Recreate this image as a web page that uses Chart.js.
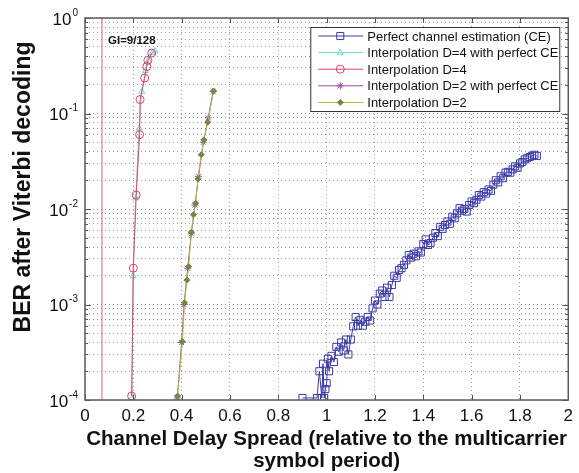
<!DOCTYPE html>
<html>
<head>
<meta charset="utf-8">
<script src="https://cdn.jsdelivr.net/npm/chart.js@4.4.1/dist/chart.umd.min.js"></script>
<style>
  html, body { margin: 0; padding: 0; background: #fff; }
</style>
</head>
<body>
<canvas id="berChart" width="579" height="473"></canvas>
<script>
// values, [delay spread, BER]
const perfectCE = [
  [0.90,1.05e-4],[0.96,1.05e-4],[0.97,2.0e-4],[0.98,1.05e-4],[0.985,2.4e-4],[0.99,1.05e-4],[0.995,1.3e-4],
  [1.00,1.5e-4],[1.005,2.7e-4],[1.01,2.0e-4],[1.02,2.9e-4],[1.03,2.5e-4],[1.04,3.6e-4],[1.05,3.2e-4],
  [1.06,4.0e-4],[1.07,3.3e-4],[1.08,4.3e-4],[1.09,3.0e-4],[1.10,4.3e-4],[1.11,5.9e-4],[1.12,7.4e-4],
  [1.13,6.0e-4],[1.14,6.9e-4],[1.15,6.0e-4],[1.16,6.6e-4],[1.17,7.4e-4],[1.18,6.8e-4],[1.19,9.1e-4],
  [1.20,1.1e-3],[1.21,1.0e-3],[1.22,1.3e-3],[1.23,1.4e-3],[1.24,1.2e-3],[1.25,1.5e-3],[1.26,1.2e-3],
  [1.27,1.6e-3],[1.28,2.0e-3],[1.29,1.9e-3],[1.30,2.3e-3],[1.31,2.4e-3],[1.32,2.6e-3],[1.33,2.9e-3],
  [1.34,3.3e-3],[1.35,3.1e-3],[1.36,3.4e-3],[1.37,3.2e-3],[1.38,3.6e-3],[1.39,3.5e-3],[1.40,4.3e-3],
  [1.41,4.8e-3],[1.42,4.2e-3],[1.43,4.4e-3],[1.44,5.0e-3],[1.45,5.6e-3],[1.46,5.2e-3],[1.47,6.5e-3],
  [1.48,6.2e-3],[1.49,6.8e-3],[1.50,7.4e-3],[1.51,7.0e-3],[1.52,8.3e-3],[1.53,8.0e-3],[1.54,9.0e-3],
  [1.55,1.02e-2],[1.56,9.6e-3],[1.57,1.0e-2],[1.58,9.4e-3],[1.59,1.1e-2],[1.60,1.2e-2],[1.61,1.15e-2],
  [1.62,1.25e-2],[1.63,1.4e-2],[1.64,1.35e-2],[1.65,1.5e-2],[1.66,1.45e-2],[1.67,1.6e-2],[1.68,1.55e-2],
  [1.69,1.8e-2],[1.70,2.0e-2],[1.71,1.9e-2],[1.72,2.2e-2],[1.73,2.1e-2],[1.74,2.4e-2],[1.75,2.45e-2],
  [1.76,2.4e-2],[1.77,2.6e-2],[1.78,2.8e-2],[1.79,2.7e-2],[1.80,3.0e-2],[1.81,3.1e-2],[1.82,3.3e-2],
  [1.83,3.4e-2],[1.84,3.5e-2],[1.85,3.6e-2],[1.86,3.7e-2],[1.87,3.6e-2]
];
const interpD4PerfectCE = [
  [0.195,1.05e-4],[0.199,2.0e-3],[0.21,1.3e-2],[0.224,7.0e-2],[0.235,0.17],[0.25,0.28],[0.262,0.36],[0.278,0.43],[0.29,0.45]
];
const interpD4 = [
  [0.193,1.1e-4],[0.200,2.4e-3],[0.212,1.4e-2],[0.226,6.0e-2],[0.228,0.14],[0.247,0.235],[0.256,0.31],[0.260,0.36],[0.276,0.43]
];
const interpD2PerfectCE = [
  [0.382,1.05e-4],[0.40,4.0e-4],[0.41,1.0e-3],[0.425,2.4e-3],[0.44,5.5e-3],[0.455,1.1e-2],[0.47,2.2e-2],[0.49,5.0e-2],[0.51,9.0e-2],[0.53,0.17]
];
const interpD2 = [
  [0.383,1.1e-4],[0.403,4.1e-4],[0.412,1.04e-3],[0.422,1.8e-3],[0.429,2.5e-3],[0.44,5.7e-3],[0.449,8.7e-3],
  [0.458,1.15e-2],[0.467,2.06e-2],[0.481,3.7e-2],[0.492,5.3e-2],[0.508,8.1e-2],[0.532,0.172]
];
const guardInterval = [[0.0703,1e-4],[0.0703,1]];

const seriesLabels = [
  'Perfect channel estimation (CE)',
  'Interpolation D=4 with perfect CE',
  'Interpolation D=4',
  'Interpolation D=2 with perfect CE',
  'Interpolation D=2'
];
const xMin = 0, xMax = 2, xStep = 0.2;
const yDecades = [1e-4, 1e-3, 1e-2, 1e-1, 1];
const giLabel = 'GI=9/128';
const xTitle = ['Channel Delay Spread (relative to the multicarrier', 'symbol period)'];
const yTitle = 'BER after Viterbi decoding';

const FONT = '"Liberation Sans", Arial, Helvetica, sans-serif';

function toPoints(arr) {
  return arr.map(p => ({ x: p[0], y: p[1] }));
}

// every 1..9 x 10^n between the decades, like matlab minor grid
function logTicks() {
  const out = [];
  for (let i = 0; i < yDecades.length - 1; i++) {
    for (let m = 1; m < 10; m++) out.push(yDecades[i] * m);
  }
  out.push(yDecades[yDecades.length - 1]);
  return out;
}

const series = [
  { data: perfectCE,         color: '#3a3aa8', point: 'rect',     radius: 5,   fill: 'rgba(0,0,0,0)', order: 4 },
  { data: interpD4PerfectCE, color: '#6fd8d2', point: 'triangle', radius: 3.5, fill: 'rgba(0,0,0,0)', order: 3 },
  { data: interpD4,          color: '#e0406c', point: 'circle',   radius: 4,   fill: 'rgba(0,0,0,0)', order: 2 },
  { data: interpD2PerfectCE, color: '#a04aa8', point: 'star',     radius: 3.5, fill: 'rgba(0,0,0,0)', order: 1 },
  { data: interpD2,          color: '#a8c03a', point: 'rectRot', radius: 3,   fill: '#6f8a3e', order: 0 }
];

const datasets = series.map((s, i) => ({
  label: seriesLabels[i],
  data: toPoints(s.data),
  borderColor: s.color,
  backgroundColor: s.fill,
  pointBorderColor: i === 4 ? '#6f8a3e' : s.color,
  pointBackgroundColor: s.fill,
  pointStyle: s.point,
  pointRadius: s.radius,
  pointBorderWidth: 1,
  borderWidth: 1,
  tension: 0,
  order: s.order
}));

datasets.push({
  label: 'GI',
  data: toPoints(guardInterval),
  borderColor: '#d26478',
  borderWidth: 1,
  pointRadius: 0,
  order: 5
});

// box, inner ticks, y labels, y title, GI note and legend
const decorPlugin = {
  id: 'decor',
  afterDraw(chart) {
    const { ctx, chartArea: a, scales } = chart;
    const xs = scales.x, ys = scales.y;
    ctx.save();

    ctx.strokeStyle = '#555';
    ctx.lineWidth = 1;
    ctx.beginPath();
    ys.ticks.forEach(t => {
      const y = Math.round(ys.getPixelForValue(t.value)) + 0.5;
      const major = yDecades.some(d => Math.abs(d - t.value) < d * 1e-6);
      const len = major ? 6 : 3;
      ctx.moveTo(a.left, y); ctx.lineTo(a.left + len, y);
      ctx.moveTo(a.right, y); ctx.lineTo(a.right - len, y);
    });
    xs.ticks.forEach(t => {
      const x = Math.round(xs.getPixelForValue(t.value)) + 0.5;
      ctx.moveTo(x, a.bottom); ctx.lineTo(x, a.bottom - 5);
      ctx.moveTo(x, a.top); ctx.lineTo(x, a.top + 5);
    });
    ctx.stroke();

    ctx.lineWidth = 1.5;
    ctx.strokeStyle = '#5a5a5a';
    ctx.strokeRect(a.left, a.top, a.right - a.left, a.bottom - a.top);

    // y tick labels 10^n
    ctx.fillStyle = '#111';
    ctx.textBaseline = 'middle';
    yDecades.forEach(d => {
      const y = ys.getPixelForValue(d);
      const exp = String(Math.round(Math.log10(d)));
      ctx.font = '10px ' + FONT;
      const we = ctx.measureText(exp).width;
      ctx.font = '17px ' + FONT;
      const right = a.left - 7;
      ctx.textAlign = 'right';
      ctx.fillText('10', right - we - 1, y + 2);
      ctx.font = '10px ' + FONT;
      ctx.textAlign = 'left';
      ctx.fillText(exp, right - we, y - 5);
    });

    // y title
    ctx.save();
    ctx.translate(24, (a.top + a.bottom) / 2 - 22);
    ctx.rotate(-Math.PI / 2);
    ctx.font = 'bold 23px ' + FONT;
    ctx.textAlign = 'center';
    ctx.textBaseline = 'middle';
    ctx.fillText(yTitle, 0, 0);
    ctx.restore();

    // GI annotation
    ctx.font = 'bold 11.5px ' + FONT;
    ctx.textAlign = 'left';
    ctx.textBaseline = 'middle';
    ctx.fillStyle = '#111';
    ctx.fillText(giLabel, xs.getPixelForValue(guardInterval[0][0]) + 6, a.top + 23);

    // legend box in the upper right
    const lw = 249, lh = 84;
    const lx = a.right - 9 - lw, ly = a.top + 9;
    ctx.fillStyle = '#fff';
    ctx.fillRect(lx, ly, lw, lh);
    ctx.lineWidth = 1;
    ctx.strokeStyle = '#333';
    ctx.strokeRect(lx + 0.5, ly + 0.5, lw, lh);
    ctx.font = '13px ' + FONT;
    ctx.textBaseline = 'middle';
    series.forEach((s, i) => {
      const y = ly + 9 + i * 16.6;
      ctx.strokeStyle = s.color;
      ctx.lineWidth = 1;
      ctx.beginPath();
      ctx.moveTo(lx + 8, y); ctx.lineTo(lx + 53, y);
      ctx.stroke();
      ctx.strokeStyle = i === 4 ? '#6f8a3e' : s.color;
      ctx.fillStyle = s.fill;
      Chart.helpers.drawPoint(ctx, { pointStyle: s.point, radius: s.radius, rotation: 0, borderWidth: 1 }, lx + 30, y);
      ctx.fillStyle = '#111';
      ctx.fillText(seriesLabels[i], lx + 57, y + 1);
    });

    ctx.restore();
  }
};

const ctx = document.getElementById('berChart').getContext('2d');
new Chart(ctx, {
  type: 'line',
  data: { datasets: datasets },
  options: {
    responsive: false,
    animation: false,
    layout: { padding: { top: 18, right: 9, left: 0, bottom: 0 } },
    plugins: {
      legend: { display: false },
      tooltip: { enabled: false }
    },
    scales: {
      x: {
        type: 'linear',
        min: xMin,
        max: xMax,
        grid: { color: '#9a9a9a', lineWidth: 1, drawTicks: false },
        border: { display: false, dash: [1, 3] },
        ticks: {
          stepSize: xStep,
          padding: 6,
          color: '#111',
          font: { family: FONT, size: 17 },
          maxRotation: 0,
          callback: v => String(Number(v.toFixed(1)))
        },
        title: {
          display: true,
          text: xTitle,
          color: '#111',
          font: { family: FONT, size: 20.5, weight: 'bold', lineHeight: 1.05 },
          padding: { top: 0, bottom: 1 }
        },
        afterFit: scale => { scale.height = 73; }
      },
      y: {
        type: 'logarithmic',
        min: yDecades[0],
        max: yDecades[yDecades.length - 1],
        grid: { color: '#9a9a9a', lineWidth: 1, drawTicks: false },
        border: { display: false, dash: [1, 3] },
        ticks: { display: false, autoSkip: false },
        afterBuildTicks: scale => {
          scale.ticks = logTicks().map(v => ({ value: v }));
        },
        afterFit: scale => { scale.width = 85; }
      }
    }
  },
  plugins: [decorPlugin]
});
</script>
</body>
</html>
